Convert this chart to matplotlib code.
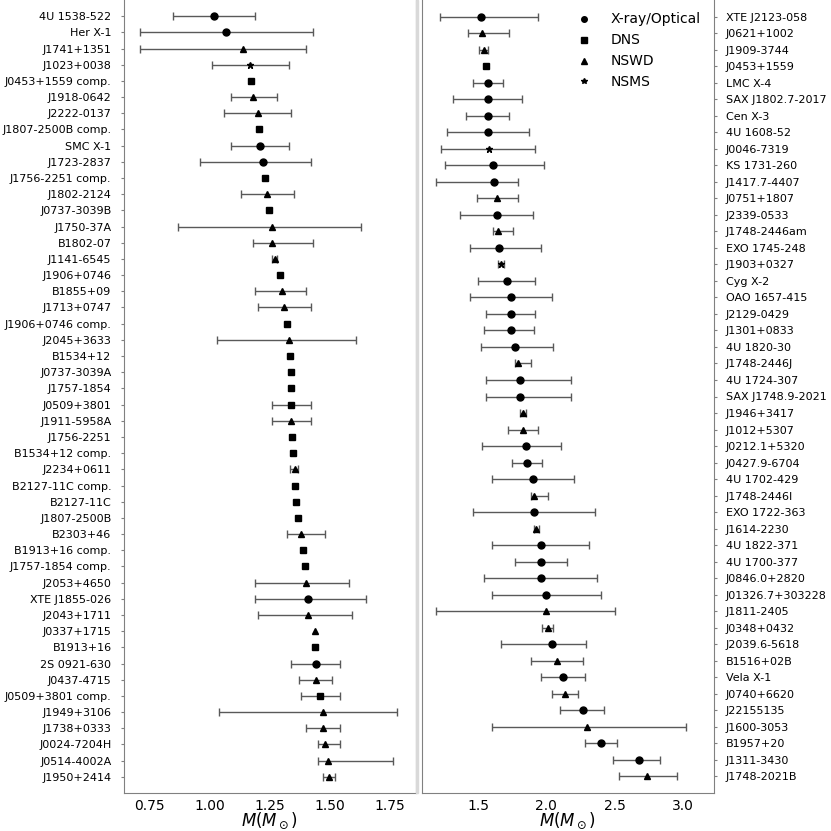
import numpy as np
import matplotlib
matplotlib.use('Agg')
import matplotlib.pyplot as plt
from matplotlib.lines import Line2D
from matplotlib.patches import Rectangle

# neutron star masses
# kinds: xo = X-ray/Optical, dns = double NS, nswd = NS-WD, nsms = NS-MS

left_names = ['4U 1538-522', 'Her X-1', 'J1741+1351', 'J1023+0038', 'J0453+1559 comp.',
              'J1918-0642', 'J2222-0137', 'J1807-2500B comp.', 'SMC X-1', 'J1723-2837',
              'J1756-2251 comp.', 'J1802-2124', 'J0737-3039B', 'J1750-37A', 'B1802-07',
              'J1141-6545', 'J1906+0746', 'B1855+09', 'J1713+0747', 'J1906+0746 comp.',
              'J2045+3633', 'B1534+12', 'J0737-3039A', 'J1757-1854', 'J0509+3801',
              'J1911-5958A', 'J1756-2251', 'B1534+12 comp.', 'J2234+0611', 'B2127-11C comp.',
              'B2127-11C', 'J1807-2500B', 'B2303+46', 'B1913+16 comp.', 'J1757-1854 comp.',
              'J2053+4650', 'XTE J1855-026', 'J2043+1711', 'J0337+1715', 'B1913+16',
              '2S 0921-630', 'J0437-4715', 'J0509+3801 comp.', 'J1949+3106', 'J1738+0333',
              'J0024-7204H', 'J0514-4002A', 'J1950+2414']
left_kind = ['xo', 'xo', 'nswd', 'nsms', 'dns',
             'nswd', 'nswd', 'dns', 'xo', 'xo',
             'dns', 'nswd', 'dns', 'nswd', 'nswd',
             'nswd', 'dns', 'nswd', 'nswd', 'dns',
             'nswd', 'dns', 'dns', 'dns', 'dns',
             'nswd', 'dns', 'dns', 'nswd', 'dns',
             'dns', 'dns', 'nswd', 'dns', 'dns',
             'nswd', 'xo', 'nswd', 'nswd', 'dns',
             'xo', 'nswd', 'dns', 'nswd', 'nswd',
             'nswd', 'nswd', 'nswd']
left_mass = [1.02, 1.07, 1.14, 1.17, 1.174,
             1.18, 1.20, 1.2064, 1.21, 1.22,
             1.23, 1.24, 1.2489, 1.26, 1.26,
             1.27, 1.291, 1.30, 1.31, 1.322,
             1.33, 1.333, 1.3381, 1.3384, 1.34,
             1.34, 1.341, 1.3455, 1.353, 1.354,
             1.358, 1.3655, 1.38, 1.3886, 1.3946,
             1.40, 1.41, 1.41, 1.4378, 1.4398,
             1.44, 1.44, 1.46, 1.47, 1.47,
             1.48, 1.49, 1.496]
left_lo = [0.17, 0.36, 0.43, 0.16, 0,
           0.09, 0.14, 0, 0.12, 0.26,
           0, 0.11, 0, 0.39, 0.08,
           0.01, 0, 0.11, 0.11, 0,
           0.30, 0, 0, 0, 0.08,
           0.08, 0, 0, 0.017, 0,
           0, 0, 0.06, 0, 0,
           0.21, 0.22, 0.21, 0, 0,
           0.10, 0.07, 0.08, 0.43, 0.07,
           0.03, 0.04, 0.023]
left_hi = [0.17, 0.36, 0.26, 0.16, 0,
           0.10, 0.14, 0, 0.12, 0.20,
           0, 0.11, 0, 0.37, 0.17,
           0.01, 0, 0.10, 0.11, 0,
           0.28, 0, 0, 0, 0.08,
           0.08, 0, 0, 0.014, 0,
           0, 0, 0.10, 0, 0,
           0.18, 0.24, 0.18, 0, 0,
           0.10, 0.07, 0.08, 0.31, 0.07,
           0.06, 0.27, 0.023]

right_names = ['XTE J2123-058', 'J0621+1002', 'J1909-3744', 'J0453+1559', 'LMC X-4',
               'SAX J1802.7-2017', 'Cen X-3', '4U 1608-52', 'J0046-7319', 'KS 1731-260',
               'J1417.7-4407', 'J0751+1807', 'J2339-0533', 'J1748-2446am', 'EXO 1745-248',
               'J1903+0327', 'Cyg X-2', 'OAO 1657-415', 'J2129-0429', 'J1301+0833',
               '4U 1820-30', 'J1748-2446J', '4U 1724-307', 'SAX J1748.9-2021', 'J1946+3417',
               'J1012+5307', 'J0212.1+5320', 'J0427.9-6704', '4U 1702-429', 'J1748-2446I',
               'EXO 1722-363', 'J1614-2230', '4U 1822-371', '4U 1700-377', 'J0846.0+2820',
               'J01326.7+303228', 'J1811-2405', 'J0348+0432', 'J2039.6-5618', 'B1516+02B',
               'Vela X-1', 'J0740+6620', 'J22155135', 'J1600-3053', 'B1957+20',
               'J1311-3430', 'J1748-2021B']
right_kind = ['xo', 'nswd', 'nswd', 'dns', 'xo',
              'xo', 'xo', 'xo', 'nsms', 'xo',
              'xo', 'nswd', 'xo', 'nswd', 'xo',
              'nsms', 'xo', 'xo', 'xo', 'xo',
              'xo', 'nswd', 'xo', 'xo', 'nswd',
              'nswd', 'xo', 'xo', 'xo', 'nswd',
              'xo', 'nswd', 'xo', 'xo', 'xo',
              'xo', 'nswd', 'nswd', 'xo', 'nswd',
              'xo', 'nswd', 'xo', 'nswd', 'xo',
              'xo', 'nswd']
right_mass = [1.52, 1.53, 1.54, 1.559, 1.57,
              1.57, 1.57, 1.57, 1.58, 1.61,
              1.62, 1.64, 1.64, 1.649, 1.65,
              1.667, 1.71, 1.74, 1.74, 1.74,
              1.77, 1.79, 1.81, 1.81, 1.828,
              1.83, 1.85, 1.86, 1.90, 1.91,
              1.91, 1.928, 1.96, 1.96, 1.96,
              2.00, 2.00, 2.01, 2.04, 2.08,
              2.12, 2.14, 2.27, 2.30, 2.40,
              2.68, 2.74]
right_lo = [0.30, 0.10, 0.03, 0, 0.11,
            0.25, 0.16, 0.30, 0.35, 0.35,
            0.43, 0.15, 0.27, 0.04, 0.21,
            0.02, 0.21, 0.30, 0.18, 0.20,
            0.25, 0.02, 0.25, 0.25, 0.02,
            0.11, 0.32, 0.11, 0.30, 0.02,
            0.45, 0.02, 0.36, 0.19, 0.42,
            0.40, 0.81, 0.04, 0.37, 0.19,
            0.16, 0.10, 0.17, 0.70, 0.12,
            0.19, 0.21]
right_hi = [0.42, 0.20, 0.03, 0, 0.11,
            0.25, 0.16, 0.30, 0.34, 0.37,
            0.17, 0.15, 0.26, 0.11, 0.31,
            0.02, 0.21, 0.30, 0.18, 0.17,
            0.28, 0.10, 0.37, 0.37, 0.02,
            0.11, 0.26, 0.11, 0.30, 0.10,
            0.45, 0.02, 0.35, 0.19, 0.41,
            0.40, 0.50, 0.04, 0.25, 0.19,
            0.16, 0.09, 0.15, 0.72, 0.12,
            0.15, 0.22]

markers = {'xo': 'o', 'dns': 's', 'nswd': '^', 'nsms': '*'}
legend_labels = {'xo': 'X-ray/Optical', 'dns': 'DNS', 'nswd': 'NSWD', 'nsms': 'NSMS'}


def draw_panel(ax, names, kind, mass, lo, hi):
    n = len(names)
    for i in range(n):
        if lo[i] == 0 and hi[i] == 0:
            err = None
        else:
            err = [[lo[i]], [hi[i]]]
        ax.errorbar(mass[i], i, xerr=err, fmt=markers[kind[i]], color='k',
                    ecolor='0.35', elinewidth=1, capsize=3, capthick=1,
                    markersize=5)
    ax.set_yticks(np.arange(n))
    ax.set_yticklabels(names, fontsize=8)
    ax.set_ylim(n, -1)
    ax.set_xlabel(r'$M(M_\odot)$', fontsize=12, labelpad=-1)
    ax.tick_params(axis='x', length=0, labelsize=10, pad=4)
    ax.tick_params(axis='y', length=2, color='0.5', pad=7)
    for s in ax.spines.values():
        s.set_color('0.5')
    ax.spines['top'].set_visible(False)


fig = plt.figure(figsize=(8.31, 8.31), dpi=100)
ax1 = fig.add_axes([124/831, 38/831, 292/831, 793/831])
ax2 = fig.add_axes([421.5/831, 38/831, 292/831, 793/831])

draw_panel(ax1, left_names, left_kind, left_mass, left_lo, left_hi)
ax1.set_xlim(0.645, 1.857)
ax1.set_xticks([0.75, 1.0, 1.25, 1.5, 1.75])

draw_panel(ax2, right_names, right_kind, right_mass, right_lo, right_hi)
ax2.set_xlim(1.086, 3.224)
ax2.set_xticks([1.5, 2.0, 2.5, 3.0])
ax2.yaxis.tick_right()

handles = [Line2D([], [], marker=markers[k], ls='none', color='k', markersize=4,
                  label=legend_labels[k]) for k in ['xo', 'dns', 'nswd', 'nsms']]
ax2.legend(handles=handles, loc='upper right', frameon=False, fontsize=10,
           handletextpad=0.9)

fig.patches.append(Rectangle((415.5/831, 38/831), 2.5/831, 793/831,
                             transform=fig.transFigure, color='0.85', zorder=0))

fig.savefig('out.png', dpi=100)
